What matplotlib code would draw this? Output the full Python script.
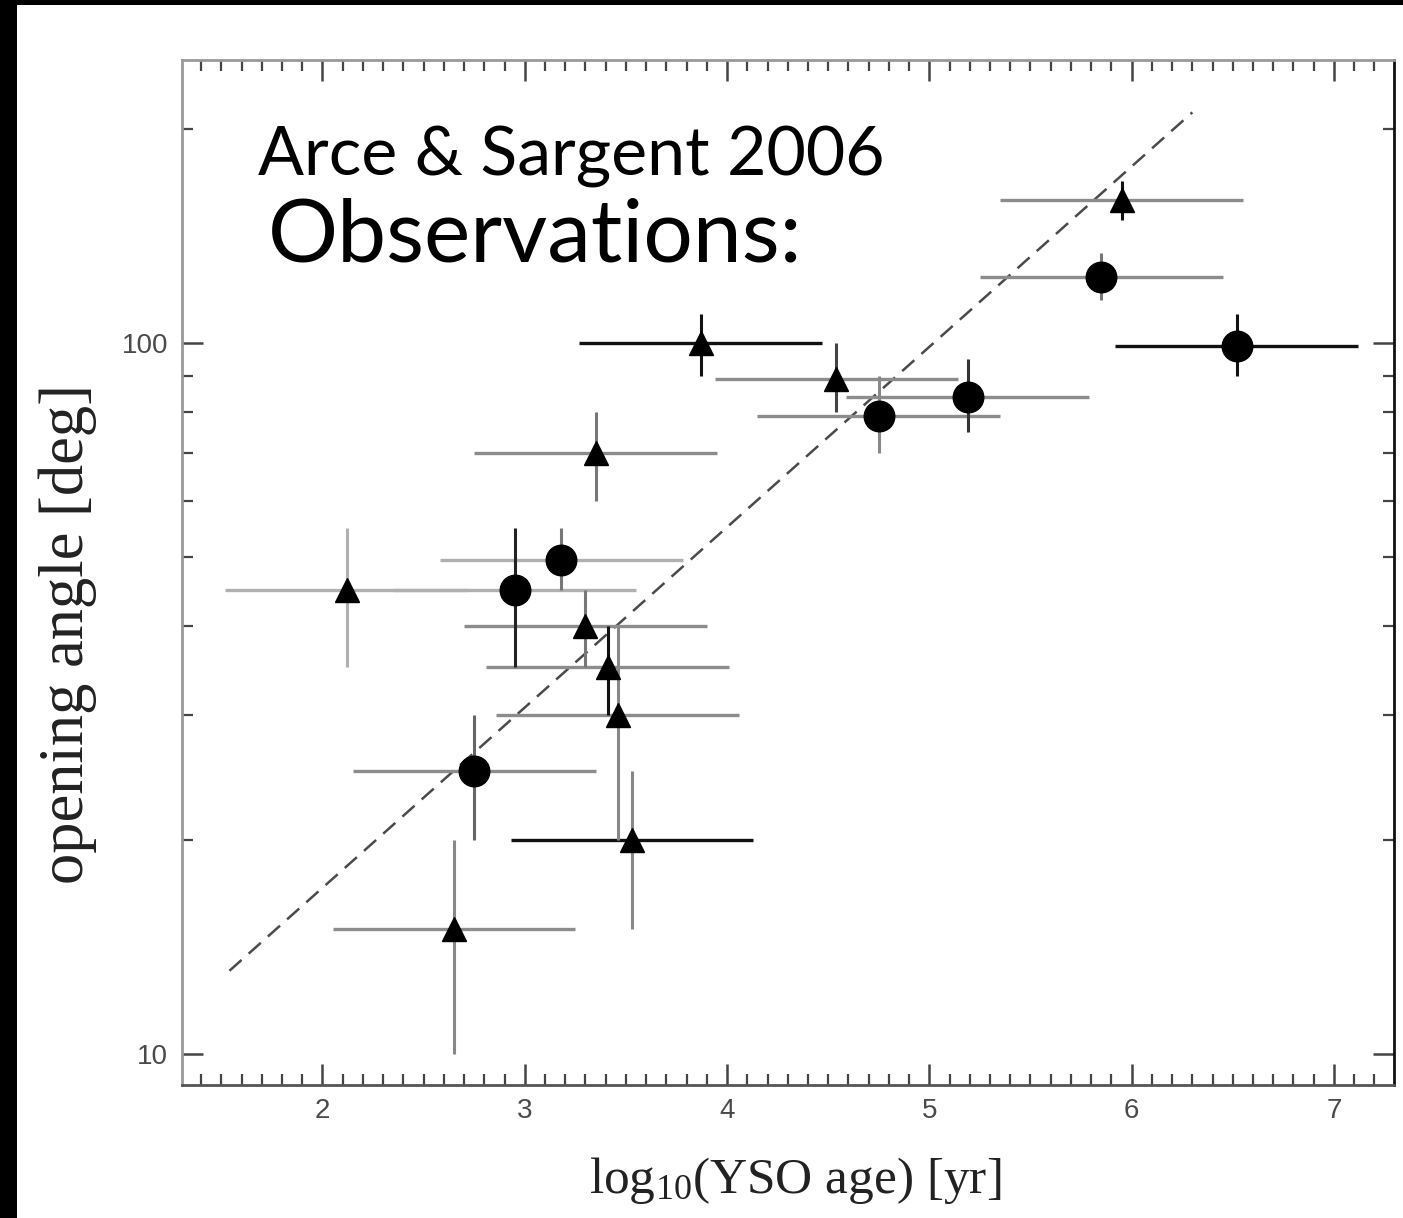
import numpy as np
import matplotlib
matplotlib.use("Agg")
import matplotlib.pyplot as plt
from matplotlib.ticker import FixedLocator, NullFormatter, FixedFormatter, MultipleLocator
from matplotlib.patches import Rectangle

# ---------------- data ----------------
circ_x = [6.52, 5.85, 5.19, 4.75, 3.18, 2.95, 2.75]
circ_y = [99, 124, 84, 79, 49.5, 45, 25]
circ_ylo = [90, 115, 75, 70, 45, 35, 20]
circ_yhi = [110, 134, 95, 90, 55, 55, 30]

tri_x = [5.95, 3.87, 4.54, 3.35, 2.12, 3.30, 3.41, 3.46, 3.53, 2.65]
tri_y = [159, 100, 89, 70, 45, 40, 35, 30, 20, 15]
tri_ylo = [149, 90, 80, 60, 35, 35, 30, 20, 15, 10]
tri_yhi = [169, 110, 100, 80, 55, 45, 40, 40, 25, 20]

age_err = 0.6  # half-width of the age error bars (dex)

fit_x = [1.54, 6.30]
fit_y = [13.1, 211]

x_ticks = [2, 3, 4, 5, 6, 7]
x_tick_labels = ["2", "3", "4", "5", "6", "7"]
y_major = [10, 100]
y_major_labels = ["10", "100"]
y_minor = [20, 30, 40, 50, 60, 70, 80, 90, 200]

# ---------------- styles ----------------
G = "#8c8c8c"
LG = "#b0b0b0"
K = "#111111"
circ_xcol = [K, G, G, G, LG, LG, G]
circ_ycol = [K, "#777777", "#333333", "#888888", "#777777", "#222222", "#666666"]
tri_xcol = [G, K, G, G, LG, G, G, G, K, G]
tri_ycol = [K, K, "#444444", "#777777", LG, "#777777", K, "#888888", "#888888", "#888888"]

fig = plt.figure(figsize=(14.03, 12.18), dpi=100)
fig.patch.set_facecolor("white")
# black frame strips of the screenshot
fig.patches.append(Rectangle((0, 0), 17 / 1403, 1, transform=fig.transFigure,
                             facecolor="black", edgecolor="none", zorder=0))
fig.patches.append(Rectangle((0, 1 - 5 / 1218), 1, 5 / 1218, transform=fig.transFigure,
                             facecolor="black", edgecolor="none", zorder=0))

ax = fig.add_axes([182 / 1403, 1 - 1085 / 1218, (1394 - 182) / 1403, (1085 - 60) / 1218])
ax.set_yscale("log")
ax.set_xlim(1.3055, 7.297)
ax.set_ylim(9.05, 250)

cx = np.array(circ_x); tx = np.array(tri_x)
# horizontal (age) error bars
ax.hlines(circ_y, cx - age_err, cx + age_err, colors=circ_xcol, linewidth=2.4, zorder=2)
ax.hlines(tri_y, tx - age_err, tx + age_err, colors=tri_xcol, linewidth=2.4, zorder=2)
# vertical (angle) error bars
ax.vlines(circ_x, circ_ylo, circ_yhi, colors=circ_ycol, linewidth=2.2, zorder=2)
ax.vlines(tri_x, tri_ylo, tri_yhi, colors=tri_ycol, linewidth=2.2, zorder=2)

# dashed fit line
ax.plot(fit_x, fit_y, color="#4a4a4a", linewidth=1.8, dashes=(6.5, 3.8), zorder=1)

# markers
ax.plot(circ_x, circ_y, linestyle="none", marker="o", markersize=22,
        markerfacecolor="black", markeredgecolor="black", zorder=3)
ax.plot(tri_x, tri_y, linestyle="none", marker="^", markersize=17,
        markerfacecolor="black", markeredgecolor="black", zorder=3)

# ticks
ax.xaxis.set_major_locator(FixedLocator(x_ticks))
ax.xaxis.set_major_formatter(FixedFormatter(x_tick_labels))
ax.xaxis.set_minor_locator(MultipleLocator(0.1))
ax.yaxis.set_major_locator(FixedLocator(y_major))
ax.yaxis.set_major_formatter(FixedFormatter(y_major_labels))
ax.yaxis.set_minor_locator(FixedLocator(y_minor))
ax.yaxis.set_minor_formatter(NullFormatter())

ax.tick_params(which="both", direction="in", top=True, right=True, colors="#444444",
               labelcolor="#4a4a4a", labelsize=20)
ax.tick_params(which="major", length=15, width=1.8)
ax.tick_params(which="minor", length=8, width=1.6)
ax.tick_params(axis="x", which="major", pad=9)
ax.tick_params(axis="y", which="major", pad=10)
for lab in ax.get_xticklabels() + ax.get_yticklabels():
    lab.set_fontfamily("Liberation Sans")

for side, col in [("left", "#999999"), ("top", "#999999"), ("bottom", "#555555"), ("right", "#111111")]:
    ax.spines[side].set_color(col)
    ax.spines[side].set_linewidth(2.0)

ax.set_xlabel(r"$\mathregular{log_{10}}$(YSO age) [yr]", fontfamily="Liberation Serif",
              fontsize=37, color="#222222")
ax.xaxis.set_label_coords(0.506, -0.068)
ax.set_ylabel("opening angle [deg]", fontfamily="Liberation Serif", fontsize=45, color="#222222")
ax.yaxis.set_label_coords(-0.070, 0.44)

fig.text(258 / 1403, 1 - 175 / 1218, "Arce & Sargent 2006", fontfamily="Lato",
         fontsize=49, color="black", ha="left", va="baseline")
fig.text(268 / 1403, 1 - 262 / 1218, "Observations:", fontfamily="Lato",
         fontsize=63, color="black", ha="left", va="baseline")

fig.savefig("out.png", dpi=100)
